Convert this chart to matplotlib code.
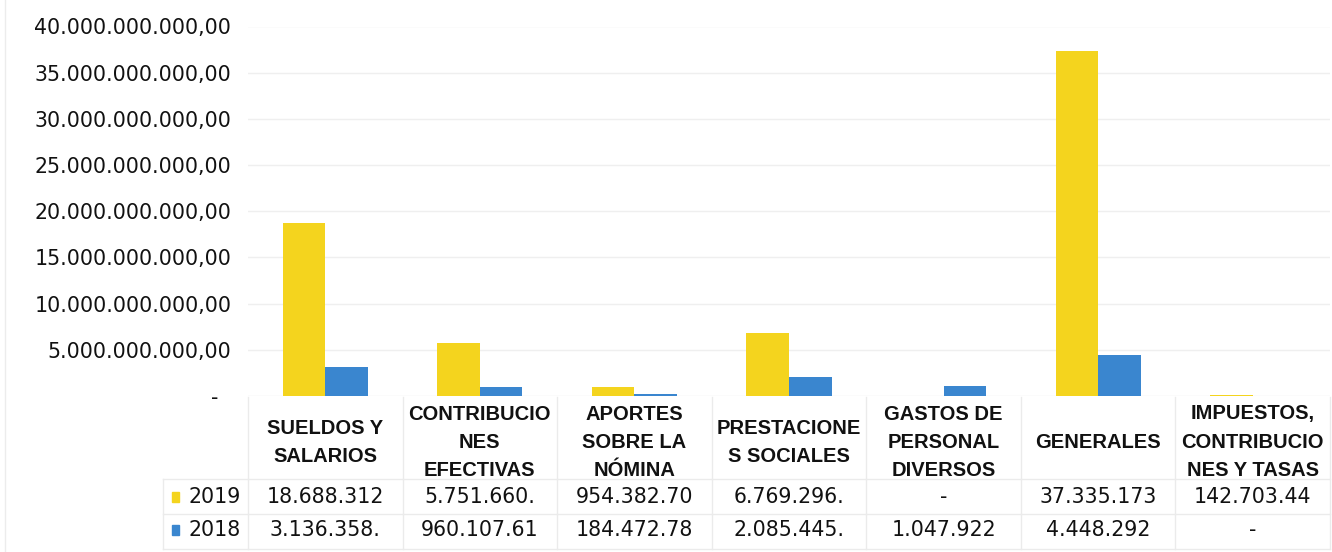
import matplotlib.pyplot as plt
from matplotlib.lines import Line2D
from matplotlib.ticker import FuncFormatter, MultipleLocator
from matplotlib.transforms import blended_transform_factory

# categorias y valores (pesos)
categorias = [
    "SUELDOS Y\nSALARIOS",
    "CONTRIBUCIO\nNES\nEFECTIVAS",
    "APORTES\nSOBRE LA\nNÓMINA",
    "PRESTACIONE\nS SOCIALES",
    "GASTOS DE\nPERSONAL\nDIVERSOS",
    "GENERALES",
    "IMPUESTOS,\nCONTRIBUCIO\nNES Y TASAS",
]
anios = ["2019", "2018"]
valores_2019 = [18688312000, 5751660000, 954382700, 6769296000, 0, 37335173000, 142703440]
valores_2018 = [3136358000, 960107610, 184472780, 2085445000, 1047922000, 4448292000, 0]

# texto de la tabla tal como aparece (recortado)
tabla_2019 = ["18.688.312", "5.751.660.", "954.382.70", "6.769.296.", "-", "37.335.173", "142.703.44"]
tabla_2018 = ["3.136.358.", "960.107.61", "184.472.78", "2.085.445.", "1.047.922", "4.448.292", "-"]

amarillo = "#F4D41E"
azul = "#3A86CF"
W, H = 1332, 552

fig = plt.figure(figsize=(W / 100, H / 100), dpi=100)
ax = fig.add_axes([248 / W, 1 - 396 / H, 1082 / W, (396 - 26.5) / H])

x = list(range(len(categorias)))
ancho = 0.275
ax.bar([i - ancho / 2 for i in x], valores_2019, width=ancho, color=amarillo, zorder=3)
ax.bar([i + ancho / 2 for i in x], valores_2018, width=ancho, color=azul, zorder=3)

ax.set_xlim(-0.5, len(categorias) - 0.5)
ax.set_ylim(0, 40e9)
ax.yaxis.set_major_locator(MultipleLocator(5e9))


def fmt(v, pos):
    if v == 0:
        return "-\u2007"
    s = f"{v:,.2f}"
    return s.replace(",", "X").replace(".", ",").replace("X", ".")


ax.yaxis.set_major_formatter(FuncFormatter(fmt))
ax.tick_params(axis="y", length=0, pad=12, labelsize=14.8, labelcolor="#111111")
ax.tick_params(axis="x", length=0, labelbottom=False)
for lab in ax.get_yticklabels():
    lab.set_fontfamily("DejaVu Sans")
ax.grid(axis="y", color="#efefef", linewidth=1, zorder=0)
for s in ax.spines.values():
    s.set_visible(False)

# tabla de datos debajo del grafico
tr = blended_transform_factory(ax.transData, fig.transFigure)
def fy(p):
    return 1 - p / H

linea = "#ebebeb"
for b in [i - 0.5 for i in range(len(categorias) + 1)]:
    fig.add_artist(Line2D([b, b], [fy(397), fy(549)], transform=tr, color=linea, lw=1))
for yy in [479, 514, 549]:
    fig.add_artist(Line2D([163 / W, 1330 / W], [fy(yy), fy(yy)], transform=fig.transFigure,
                          color=linea, lw=1))
fig.add_artist(Line2D([163 / W, 163 / W], [fy(479), fy(549)], transform=fig.transFigure,
                      color=linea, lw=1))
fig.add_artist(Line2D([5 / W, 5 / W], [0, 1], transform=fig.transFigure, color="#ececec", lw=1))

for i, cat in enumerate(categorias):
    ax.text(i, fy(442), cat, transform=tr, ha="center", va="center", fontsize=14.5,
            fontweight="bold", family=["Liberation Sans Narrow", "Liberation Sans"],
            linespacing=1.6, color="#111111")
    ax.text(i, fy(497), tabla_2019[i], transform=tr, ha="center", va="center",
            fontsize=14.8, family="DejaVu Sans", color="#111111")
    ax.text(i, fy(530), tabla_2018[i], transform=tr, ha="center", va="center",
            fontsize=14.8, family="DejaVu Sans", color="#111111")

for anio, col, yy in zip(anios, [amarillo, azul], [497, 530]):
    fig.patches.append(plt.Rectangle((172 / W, fy(yy) - 5 / H), 7 / W, 10 / H,
                                     transform=fig.transFigure, color=col))
    fig.text(188 / W, fy(yy), anio, ha="left", va="center", fontsize=14.8,
             family="DejaVu Sans", color="#111111")

fig.savefig("out.png", dpi=100, facecolor="white")
